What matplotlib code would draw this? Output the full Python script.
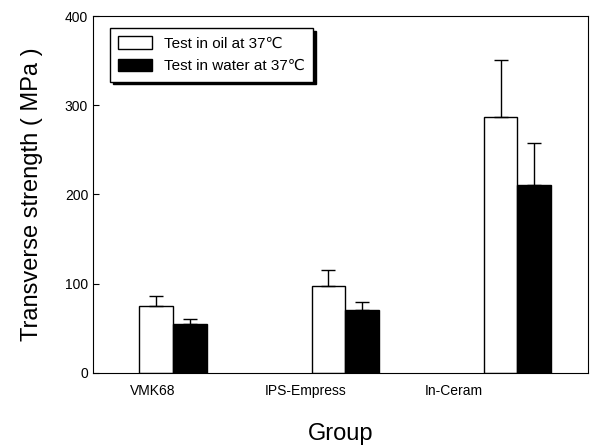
import numpy as np
import matplotlib
matplotlib.use('Agg')
import matplotlib.pyplot as plt

plt.rcParams['font.family'] = ['Liberation Sans', 'DejaVu Sans']

groups = ['VMK68', 'IPS-Empress', 'In-Ceram']
oil_mean = [75, 97, 287]
oil_sd = [11, 18, 64]
water_mean = [55, 71, 211]
water_sd = [5, 9, 47]

x = np.arange(len(groups))
w = 0.195

fig = plt.figure(figsize=(6, 4.45), dpi=100)
ax = fig.add_axes([0.155, 0.162, 0.825, 0.802])

ax.bar(x - w / 2, oil_mean, w, color='white', edgecolor='black', linewidth=1,
       yerr=[np.zeros(3), oil_sd], capsize=5, error_kw=dict(elinewidth=1, capthick=1),
       label='Test in oil at 37\u2103')
ax.bar(x + w / 2, water_mean, w, color='black', edgecolor='black', linewidth=1,
       yerr=[np.zeros(3), water_sd], capsize=5, error_kw=dict(elinewidth=1, capthick=1),
       label='Test in water at 37\u2103')

ax.set_xlim(-0.465, 2.41)
ax.set_ylim(0, 400)
ax.set_yticks([0, 100, 200, 300, 400])
# labels in the original sit left of the bar pairs
ax.set_xticks(x + np.array([-0.116, -0.23, -0.37]))
ax.set_xticklabels(groups, fontsize=10)
ax.tick_params(axis='x', length=0, pad=8)
ax.tick_params(axis='y', direction='in', length=4, labelsize=10)

ax.set_ylabel('Transverse strength ( MPa )', fontsize=17, labelpad=16)
ax.set_xlabel('Group', fontsize=17, labelpad=18)

leg = ax.legend(loc='upper left', bbox_to_anchor=(0.028, 0.975), fontsize=11,
                frameon=True, fancybox=False, shadow={'color': 'black', 'alpha': 1},
                edgecolor='black', handlelength=2.2, handleheight=0.9,
                borderpad=0.55, labelspacing=0.5, borderaxespad=0.2)
leg.get_frame().set_linewidth(1)

fig.savefig('out.png', dpi=100)
